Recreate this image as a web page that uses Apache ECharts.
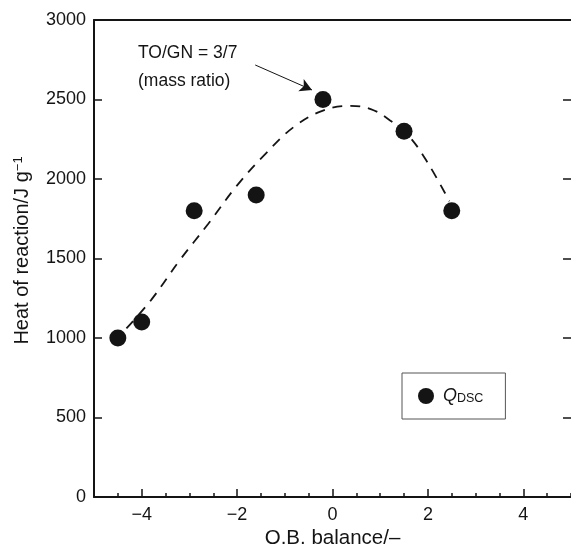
<!DOCTYPE html>
<html>
<head>
<meta charset="utf-8">
<script src="https://cdn.jsdelivr.net/npm/echarts@6/dist/echarts.min.js"></script>
<style>
html,body{margin:0;padding:0;background:#fff;}
#chart{width:571px;height:547px;}
</style>
</head>
<body>
<div id="chart"></div>
<script>
// Measured points: Q_DSC
const obBalance = [-4.5, -4.0, -2.9, -1.6, -0.2, 1.5, 2.5];
const heatOfReaction = [1000, 1100, 1800, 1900, 2500, 2300, 1800];
// Dashed trend curve
const curveX = [-4.32, -3.8, -3.2, -2.6, -2.0, -1.4, -0.8, -0.2, 0.35, 0.8, 1.2, 1.6, 2.0, 2.45];
const curveY = [1060, 1240, 1490, 1720, 1960, 2160, 2330, 2430, 2460, 2440, 2370, 2270, 2100, 1860];
// Annotation arrow (data coordinates)
const arrowFrom = [-1.62, 2717];
const arrowTo = [-0.43, 2560];
const annotationLines = ['TO/GN = 3/7', '(mass ratio)'];
// Axes
const xTicks = [-4, -2, 0, 2, 4];
const yTicks = [0, 500, 1000, 1500, 2000, 2500, 3000];

const FONT = "'Liberation Sans', Arial, Helvetica, sans-serif";
const INK = '#141414';

const G = {left: 94, right: 0, top: 20, bottom: 50};
const W = 571 - G.left - G.right;
const unit = W / 10;

const chart = echarts.init(document.getElementById('chart'), null, {renderer: 'canvas'});

const scatterData = obBalance.map((x, i) => [x, heatOfReaction[i]]);
const curveData = curveX.map((x, i) => [x, curveY[i]]);

chart.setOption({
  animation: false,
  backgroundColor: '#fff',
  grid: [
    {left: G.left, right: G.right, top: G.top, bottom: G.bottom, containLabel: false, outerBoundsMode: 'none'},
    // same scale, spanning only the labelled major ticks (-4..4)
    {left: G.left + unit, right: G.right + unit, top: G.top, bottom: G.bottom, containLabel: false, outerBoundsMode: 'none'}
  ],
  xAxis: [{
    gridIndex: 0, type: 'value', min: -5, max: 5, interval: 0.5,
    name: 'O.B. balance/–', nameLocation: 'middle', nameGap: 31,
    nameTextStyle: {fontFamily: FONT, fontSize: 20.5, color: INK},
    axisLine: {show: true, onZero: false, lineStyle: {color: INK, width: 2}},
    axisTick: {show: true, inside: true, length: 4, lineStyle: {color: INK, width: 1.5}},
    axisLabel: {show: false},
    splitLine: {show: false}
  }, {
    gridIndex: 0, type: 'value', min: -5, max: 5, position: 'top',
    axisLine: {show: true, onZero: false, lineStyle: {color: INK, width: 2}},
    axisTick: {show: false}, axisLabel: {show: false}, splitLine: {show: false}
  }, {
    gridIndex: 1, type: 'value', min: xTicks[0], max: xTicks[xTicks.length - 1], interval: 2,
    position: 'bottom',
    axisLine: {show: false, onZero: false},
    axisTick: {show: true, inside: true, length: 8, lineStyle: {color: INK, width: 1.5}},
    axisLabel: {fontFamily: FONT, fontSize: 18, color: INK, margin: 9,
      formatter: function (v) { return String(v).replace('-', '\u2212'); }},
    splitLine: {show: false}
  }],
  yAxis: [{
    gridIndex: 0, type: 'value', min: 0, max: 3000, interval: 500,
    name: 'Heat of reaction/J g{sup|\u22121}', nameLocation: 'middle', nameGap: 62,
    nameTextStyle: {fontFamily: FONT, fontSize: 20, color: INK, padding: [0, 0, 0, 16],
      rich: {sup: {fontFamily: FONT, fontSize: 13, color: INK, verticalAlign: 'top'}}},
    axisLine: {show: true, onZero: false, lineStyle: {color: INK, width: 2}},
    axisTick: {show: true, inside: true, length: 8, lineStyle: {color: INK, width: 1.5}},
    axisLabel: {fontFamily: FONT, fontSize: 18, color: INK, margin: 8,
      formatter: function (v) { return yTicks.indexOf(v) >= 0 ? String(v) : ''; }},
    splitLine: {show: false}
  }, {
    gridIndex: 0, type: 'value', min: 0, max: 3000, interval: 500, position: 'right',
    axisLine: {show: false, onZero: false},
    axisTick: {show: true, inside: true, length: 8, lineStyle: {color: INK, width: 1.5}},
    axisLabel: {show: false}, splitLine: {show: false}
  }, {
    gridIndex: 1, type: 'value', min: 0, max: 3000, show: false
  }],
  legend: {
    show: true, left: 402, top: 373,
    orient: 'horizontal',
    data: [{name: 'Q_DSC', icon: 'circle'}],
    itemWidth: 16, itemHeight: 16,
    padding: [14, 22, 14, 16],
    borderColor: '#555', borderWidth: 1, borderRadius: 0,
    backgroundColor: '#fff',
    selectedMode: false,
    formatter: function () { return '{q|Q}{s|DSC}'; },
    textStyle: {
      fontFamily: FONT, color: INK, padding: [0, 0, 0, 4],
      rich: {
        q: {fontFamily: FONT, fontSize: 18, fontStyle: 'italic', color: INK},
        s: {fontFamily: FONT, fontSize: 12.5, color: INK, verticalAlign: 'bottom'}
      }
    }
  },
  graphic: [
    {type: 'text', left: 138, top: 44, silent: true,
      style: {text: annotationLines[0], font: '17.5px ' + FONT, fill: INK}},
    {type: 'text', left: 138, top: 72, silent: true,
      style: {text: annotationLines[1], font: '17.5px ' + FONT, fill: INK}}
  ],
  series: [{
    name: 'curve', type: 'line', data: curveData, smooth: 0.4,
    xAxisIndex: 0, yAxisIndex: 0,
    showSymbol: false, symbol: 'none', silent: true,
    lineStyle: {color: INK, width: 1.8, type: [10, 8]},
    z: 1
  }, {
    name: 'Q_DSC', type: 'scatter', data: scatterData,
    xAxisIndex: 0, yAxisIndex: 0,
    symbol: 'circle', symbolSize: 17,
    itemStyle: {color: INK, opacity: 1},
    z: 3,
    markLine: {
      silent: true, animation: false,
      symbol: ['none', 'arrow'], symbolSize: [10, 12],
      label: {show: false},
      lineStyle: {color: INK, width: 1, type: 'solid'},
      data: [[{coord: arrowFrom}, {coord: arrowTo}]]
    }
  }]
});
</script>
</body>
</html>
